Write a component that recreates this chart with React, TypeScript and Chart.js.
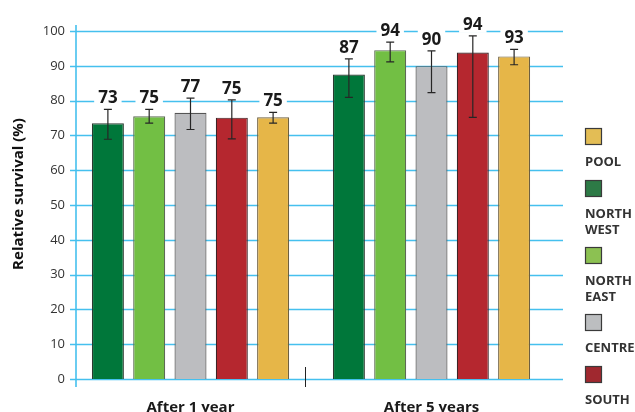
import React, { useEffect, useRef } from "react";
import { Chart, registerables } from "chart.js";

Chart.register(...registerables);

const categories = ["After 1 year", "After 5 years"];
const regionNames = ["NORTH WEST", "NORTH EAST", "CENTRE", "SOUTH", "POOL"];
const legendOrder = ["POOL", "NORTH WEST", "NORTH EAST", "CENTRE", "SOUTH"];
const yTitle = "Relative survival (%)";

const northWest = [73.5, 87.5];
const northEast = [75.5, 94.5];
const centre = [76.5, 89.9];
const south = [75.1, 93.8];
const pool = [75.2, 92.7];

const northWestLow = [68.9, 80.9];
const northWestHigh = [77.5, 92.0];
const northEastLow = [73.5, 91.1];
const northEastHigh = [77.5, 96.8];
const centreLow = [71.7, 82.3];
const centreHigh = [80.7, 94.3];
const southLow = [69.0, 75.2];
const southHigh = [80.2, 98.6];
const poolLow = [73.5, 90.3];
const poolHigh = [76.6, 94.7];

const northWestLabels = ["73", "87"];
const northEastLabels = ["75", "94"];
const centreLabels = ["77", "90"];
const southLabels = ["75", "94"];
const poolLabels = ["75", "93"];

const yTicks = [0, 10, 20, 30, 40, 50, 60, 70, 80, 90, 100];

const barColors = ["#00773a", "#72bf44", "#bcbdc0", "#b5272f", "#e6b648"];
const borderColors = ["#2b3a30", "#5d6b55", "#555555", "#3d2426", "#6e6040"];
const legendColors = ["#2d7a46", "#8cc152", "#bcbec0", "#a0282f", "#e3bd55"];

const GRID = "#45c0ee";
const FONT = "'Open Sans', 'Noto Sans', sans-serif";

const seriesValues = [northWest, northEast, centre, south, pool];
const seriesLow = [northWestLow, northEastLow, centreLow, southLow, poolLow];
const seriesHigh = [northWestHigh, northEastHigh, centreHigh, southHigh, poolHigh];
const seriesLabels = [northWestLabels, northEastLabels, centreLabels, southLabels, poolLabels];

const decorPlugin = {
  id: "decor",
  beforeDatasetsDraw(chart: any) {
    const ctx = chart.ctx;
    const y = chart.scales.y;
    const x = chart.scales.x;
    const area = chart.chartArea;
    const axisX = area.left + 6;
    ctx.save();
    ctx.strokeStyle = GRID;
    ctx.lineWidth = 1.4;
    yTicks.forEach((v) => {
      const py = Math.round(y.getPixelForValue(v)) + 0.5;
      ctx.beginPath();
      ctx.moveTo(area.left, py);
      ctx.lineTo(area.right + 11, py);
      ctx.stroke();
    });
    ctx.lineWidth = 1.6;
    ctx.beginPath();
    ctx.moveTo(axisX, y.getPixelForValue(100) - 6);
    ctx.lineTo(axisX, y.getPixelForValue(0) + 8);
    ctx.stroke();
    // separator tick between groups
    const mid = (x.getPixelForValue(0) + x.getPixelForValue(1)) / 2 - 6;
    ctx.strokeStyle = "#222";
    ctx.lineWidth = 1;
    ctx.beginPath();
    ctx.moveTo(Math.round(mid) + 0.5, y.getPixelForValue(0) - 12);
    ctx.lineTo(Math.round(mid) + 0.5, y.getPixelForValue(0) + 8);
    ctx.stroke();
    // y axis title
    ctx.save();
    ctx.translate(18.5, (area.top + area.bottom) / 2 - 11);
    ctx.rotate(-Math.PI / 2);
    ctx.font = `bold 15px ${FONT}`;
    ctx.fillStyle = "#111111";
    ctx.textAlign = "center";
    ctx.textBaseline = "middle";
    ctx.fillText(yTitle, 0, 0);
    ctx.restore();
    ctx.restore();
  },
  afterDatasetsDraw(chart: any) {
    const ctx = chart.ctx;
    const y = chart.scales.y;
    ctx.save();
    chart.data.datasets.forEach((ds: any, di: number) => {
      const meta = chart.getDatasetMeta(di);
      meta.data.forEach((el: any, i: number) => {
        const cx = el.x;
        const yh = y.getPixelForValue(ds.errHigh[i]);
        const yl = y.getPixelForValue(ds.errLow[i]);
        ctx.strokeStyle = "#262626";
        ctx.lineWidth = 1.2;
        ctx.beginPath();
        ctx.moveTo(cx, yh);
        ctx.lineTo(cx, yl);
        ctx.moveTo(cx - 4, yh);
        ctx.lineTo(cx + 4, yh);
        ctx.moveTo(cx - 4, yl);
        ctx.lineTo(cx + 4, yl);
        ctx.stroke();
        const txt = ds.valueLabels[i];
        ctx.font = `bold 17px ${FONT}`;
        const w = ctx.measureText(txt).width;
        const base = yh - 6;
        ctx.fillStyle = "#ffffff";
        ctx.fillRect(cx - w / 2 - 4, base - 15, w + 8, 18);
        ctx.fillStyle = "#1a1a1a";
        ctx.textAlign = "center";
        ctx.textBaseline = "alphabetic";
        ctx.fillText(txt, cx, base);
      });
    });
    ctx.restore();
  },
  afterDraw(chart: any) {
    const ctx = chart.ctx;
    const area = chart.chartArea;
    const lx = area.right + 33;
    let top = area.top + 97;
    ctx.save();
    legendOrder.forEach((name) => {
      const idx = regionNames.indexOf(name);
      ctx.fillStyle = legendColors[idx];
      ctx.fillRect(lx, top, 17, 17);
      ctx.strokeStyle = "#3a3a3a";
      ctx.lineWidth = 1.2;
      ctx.strokeRect(lx + 0.5, top + 0.5, 16, 16);
      const lines = name.split(" ");
      ctx.fillStyle = "#333333";
      ctx.font = `bold 13px ${FONT}`;
      ctx.textAlign = "left";
      ctx.textBaseline = "alphabetic";
      lines.forEach((ln, k) => {
        ctx.fillText(ln, lx, top + 38 + k * 16);
      });
      top += 52 + (lines.length - 1) * 15;
    });
    ctx.restore();
  },
};

export default function App() {
  const ref = useRef<HTMLCanvasElement | null>(null);
  useEffect(() => {
    if (!ref.current) return;
    const chart = new Chart(ref.current, {
      type: "bar",
      data: {
        labels: categories,
        datasets: regionNames.map((name, k) => ({
          label: name,
          data: seriesValues[k],
          backgroundColor: barColors[k],
          borderColor: borderColors[k],
          borderWidth: 1.2,
          categoryPercentage: 0.857,
          barPercentage: 0.775,
          errLow: seriesLow[k],
          errHigh: seriesHigh[k],
          valueLabels: seriesLabels[k],
        })) as any,
      },
      options: {
        animation: false,
        responsive: false,
        devicePixelRatio: 1,
        layout: { padding: { top: 31, right: 83, left: 0, bottom: 0 } },
        plugins: { legend: { display: false }, tooltip: { enabled: false } },
        scales: {
          x: {
            grid: { display: false, drawTicks: false },
            border: { display: false },
            ticks: { font: { family: FONT, size: 15, weight: "bold" }, color: "#1a1a1a", padding: 20 },
            afterFit: (s: any) => { s.height = 33; },
          },
          y: {
            min: 0,
            max: 100,
            grid: { display: false, drawTicks: false },
            border: { display: false },
            ticks: { stepSize: 10, font: { family: FONT, size: 13 }, color: "#333333", padding: 5 },
            afterFit: (s: any) => { s.width = 70; },
          },
        },
      },
      plugins: [decorPlugin],
    });
    return () => chart.destroy();
  }, []);
  return (
    <div style={{ position: "absolute", left: 0, top: 0, width: 635, height: 412, background: "#fff" }}>
      <canvas ref={ref} width={635} height={412} style={{ width: 635, height: 412 }} />
    </div>
  );
}
